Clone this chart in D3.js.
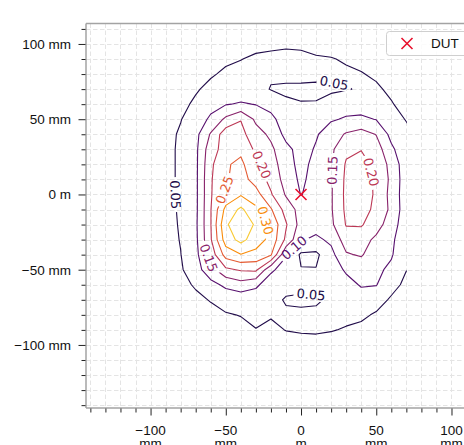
<!DOCTYPE html>
<html><head><meta charset="utf-8">
<script src="https://cdn.jsdelivr.net/npm/d3@7/dist/d3.min.js"></script>
<style>html,body{margin:0;padding:0;background:#fff;} svg{display:block;}</style>
</head><body>
<svg id="chart" width="464" height="445"></svg>
<script>
// ---- data (mm grid, estimated field values) ----
const gridX = [-100,-90,-80,-70,-60,-50,-40,-30,-20,-10,0,10,20,30,40,50,60,70];
const gridY = [110,100,90,80,70,60,50,40,30,20,10,0,-10,-20,-30,-40,-50,-60,-70,-80,-90,-100,-110];
const fieldRows = [
 [0.001,0.002,0.004,0.006,0.008,0.010,0.012,0.014,0.016,0.018,0.018,0.015,0.013,0.011,0.008,0.006,0.004,0.002],
 [0.002,0.006,0.010,0.015,0.022,0.030,0.035,0.040,0.043,0.046,0.045,0.038,0.035,0.030,0.025,0.020,0.012,0.005],
 [0.004,0.010,0.015,0.025,0.035,0.042,0.049,0.056,0.058,0.058,0.057,0.054,0.052,0.046,0.040,0.030,0.020,0.010],
 [0.006,0.014,0.022,0.035,0.045,0.058,0.062,0.060,0.055,0.058,0.062,0.058,0.058,0.056,0.052,0.044,0.030,0.015],
 [0.008,0.018,0.030,0.045,0.062,0.065,0.070,0.065,0.048,0.045,0.042,0.043,0.044,0.047,0.055,0.056,0.042,0.025],
 [0.011,0.024,0.038,0.058,0.085,0.097,0.105,0.098,0.080,0.055,0.052,0.052,0.065,0.080,0.075,0.070,0.053,0.035],
 [0.014,0.030,0.048,0.075,0.108,0.160,0.198,0.140,0.115,0.070,0.070,0.080,0.095,0.105,0.110,0.098,0.065,0.048],
 [0.016,0.035,0.056,0.085,0.155,0.230,0.215,0.170,0.140,0.085,0.075,0.095,0.125,0.155,0.170,0.148,0.085,0.060],
 [0.017,0.036,0.058,0.088,0.180,0.220,0.240,0.190,0.160,0.115,0.080,0.105,0.140,0.190,0.198,0.175,0.110,0.065],
 [0.017,0.036,0.058,0.088,0.190,0.245,0.260,0.215,0.175,0.120,0.085,0.115,0.145,0.205,0.220,0.185,0.135,0.068],
 [0.017,0.036,0.058,0.088,0.195,0.245,0.270,0.230,0.185,0.130,0.090,0.120,0.145,0.210,0.230,0.190,0.140,0.070],
 [0.017,0.035,0.058,0.088,0.195,0.260,0.295,0.270,0.205,0.145,0.098,0.120,0.145,0.212,0.235,0.190,0.135,0.070],
 [0.017,0.035,0.056,0.088,0.198,0.315,0.360,0.310,0.255,0.180,0.130,0.125,0.145,0.210,0.225,0.185,0.140,0.070],
 [0.016,0.035,0.054,0.090,0.198,0.345,0.375,0.345,0.290,0.205,0.130,0.120,0.140,0.203,0.205,0.170,0.125,0.068],
 [0.015,0.033,0.052,0.088,0.195,0.325,0.365,0.325,0.285,0.190,0.105,0.090,0.110,0.175,0.170,0.140,0.110,0.065],
 [0.014,0.030,0.049,0.085,0.170,0.270,0.298,0.285,0.255,0.105,0.042,0.040,0.085,0.145,0.155,0.120,0.105,0.060],
 [0.012,0.026,0.044,0.080,0.130,0.190,0.205,0.210,0.110,0.075,0.052,0.052,0.070,0.108,0.120,0.110,0.090,0.051],
 [0.010,0.022,0.035,0.056,0.085,0.110,0.130,0.110,0.070,0.060,0.058,0.058,0.060,0.080,0.105,0.102,0.065,0.040],
 [0.008,0.016,0.025,0.038,0.053,0.070,0.068,0.070,0.060,0.047,0.045,0.046,0.055,0.068,0.075,0.068,0.044,0.028],
 [0.006,0.011,0.018,0.028,0.035,0.046,0.052,0.058,0.053,0.055,0.055,0.056,0.058,0.059,0.058,0.045,0.030,0.018],
 [0.004,0.007,0.012,0.018,0.022,0.030,0.035,0.049,0.042,0.051,0.054,0.055,0.052,0.047,0.040,0.030,0.018,0.010],
 [0.002,0.004,0.007,0.010,0.012,0.018,0.020,0.030,0.028,0.035,0.036,0.037,0.035,0.030,0.022,0.018,0.010,0.005],
 [0.001,0.002,0.004,0.006,0.008,0.010,0.010,0.015,0.012,0.015,0.015,0.015,0.015,0.012,0.010,0.008,0.005,0.002]
];
const levels = [0.05,0.10,0.15,0.20,0.25,0.30,0.35];
const colorMax = 0.40;
// contour labels: level, x (mm), y (mm), rotation hint (deg)
const labelLevels = [0.05, 0.05, 0.05, 0.10, 0.15, 0.15, 0.20, 0.20, 0.25, 0.30];
const labelX      = [-81.5, 22,   6.7,  -5,   -61,  20.8, 47.5, -26.3, -50.5, -23];
const labelY      = [0,     74,  -66.5, -35,  -42,  16,   15,   19.7,  3,     -17];
const labelHint   = [90,    -5,   8,    -40,  65,   -90,  90,   60,    -72,   65];
const xDomain = [-142.9, 112.7];
const yDomain = [-141.9, 113.6];
const xMajor = [-100,-50,0,50,100];
const yMajor = [100,50,0,-50,-100];
const xTickLines = [["\u2212100","mm"],["\u221250","mm"],["0","m"],["50","mm"],["100","mm"]];
const yTickText = ["100 mm","50 mm","0 m","\u221250 mm","\u2212100 mm"];
const minorTicks = d3.range(-140, 111, 10).filter(v => v % 50 !== 0);
const gridTicks = d3.range(-140, 111, 10);
const dutName = ["DUT"];
const dutX = [0];
const dutY = [0];
const dataXMax = 70;

// ---- layout ----
const svg = d3.select("#chart");
const plot = {left: 86, top: 23.5, bottom: 408, right: 470.6};
const xScale = d3.scaleLinear().domain(xDomain).range([plot.left, plot.right]);
const yScale = d3.scaleLinear().domain(yDomain).range([plot.bottom, plot.top]);
const color = v => d3.interpolateInferno(v / colorMax);
const sansTick = "'Liberation Sans', Arial, Helvetica, sans-serif";
const sansLabel = "'DejaVu Sans', 'Bitstream Vera Sans', sans-serif";

svg.append("rect").attr("width",464).attr("height",445).attr("fill","#fff");
const defs = svg.append("defs");
defs.append("clipPath").attr("id","plotClip").append("rect")
  .attr("x", plot.left).attr("y", plot.top)
  .attr("width", xScale(dataXMax) + 0.6 - plot.left).attr("height", plot.bottom - plot.top);
defs.append("clipPath").attr("id","axClip").append("rect")
  .attr("x", plot.left).attr("y", plot.top)
  .attr("width", plot.right - plot.left).attr("height", plot.bottom - plot.top);

// grid
const grid = svg.append("g").attr("clip-path","url(#axClip)")
  .attr("stroke","#e4e4e4").attr("stroke-width",1).attr("stroke-dasharray","4.5,2.5");
grid.selectAll("line.gv").data(gridTicks).join("line").attr("class","gv")
  .attr("x1", d => Math.round(xScale(d)) + 0.5).attr("x2", d => Math.round(xScale(d)) + 0.5)
  .attr("y1", plot.top).attr("y2", plot.bottom);
grid.selectAll("line.gh").data(gridTicks).join("line").attr("class","gh")
  .attr("y1", d => Math.round(yScale(d)) + 0.5).attr("y2", d => Math.round(yScale(d)) + 0.5)
  .attr("x1", plot.left).attr("x2", plot.right);

// contours
const nx = gridX.length, ny = gridY.length;
const sx = gridX[1] - gridX[0], sy = gridY[1] - gridY[0];
const values = fieldRows.flat();
const contours = d3.contours().size([nx, ny]).thresholds(levels)(values);
const gx2px = gx => xScale(gridX[0] + (gx - 0.5) * sx);
const gy2px = gy => yScale(gridY[0] + (gy - 0.5) * sy);
const proj = d3.geoTransform({point: function(gx, gy){ this.stream.point(gx2px(gx), gy2px(gy)); }});
const path = d3.geoPath(proj);

// rings in px for label placement
const ringsByLevel = new Map();
contours.forEach(c => {
  const rings = [];
  c.coordinates.forEach(poly => poly.forEach(ring => rings.push(ring.map(([a,b]) => [gx2px(a), gy2px(b)]))));
  ringsByLevel.set(c.value, rings);
});

const xmax = xScale(dataXMax);
function placeOnContour(level, tx, ty, hint){
  const rings = ringsByLevel.get(level) || [];
  let best = null;
  rings.forEach(r => {
    for (let i = 0; i < r.length - 1; i++){
      const [x1,y1] = r[i], [x2,y2] = r[i+1];
      if (x1 > xmax && x2 > xmax) continue;
      const dx = x2-x1, dy = y2-y1, L2 = dx*dx+dy*dy;
      let t = L2 > 0 ? ((tx-x1)*dx + (ty-y1)*dy)/L2 : 0;
      t = Math.max(0, Math.min(1, t));
      const px = x1 + t*dx, py = y1 + t*dy, d = (px-tx)**2 + (py-ty)**2;
      if (!best || d < best.d) best = {d, px, py, r, i};
    }
  });
  if (!best) return {x: tx, y: ty, a: hint};
  const r = best.r, n = r.length - 1;
  const a = r[(best.i - 1 + n) % n], b = r[(best.i + 2) % n];
  const ang = Math.atan2(b[1]-a[1], b[0]-a[0]) * 180 / Math.PI;
  const cands = [ang, ang+180, ang-180, ang+360, ang-360];
  let ch = cands[0];
  cands.forEach(c => { if (Math.abs(c - hint) < Math.abs(ch - hint)) ch = c; });
  return {x: best.px, y: best.py, a: ch};
}

const labels = labelLevels.map((lv, i) => Object.assign({level: lv, text: lv.toFixed(2)},
  placeOnContour(lv, xScale(labelX[i]), yScale(labelY[i]), labelHint[i])));

// masks per level
const fontSize = 13;
const measure = svg.append("text").attr("font-family", sansLabel).attr("font-size", fontSize).attr("visibility","hidden");
labels.forEach(l => { measure.text(l.text); l.w = measure.node().getComputedTextLength(); });
measure.remove();

levels.forEach((lv, k) => {
  const m = defs.append("mask").attr("id","mask"+k).attr("maskUnits","userSpaceOnUse")
    .attr("x",0).attr("y",0).attr("width",464).attr("height",445);
  m.append("rect").attr("x",0).attr("y",0).attr("width",464).attr("height",445).attr("fill","#fff");
  labels.filter(l => l.level === lv).forEach(l => {
    m.append("rect").attr("x", -l.w/2 - 3).attr("y", -6.5).attr("width", l.w + 6).attr("height", 13)
      .attr("fill","#000").attr("transform", `translate(${l.x},${l.y}) rotate(${l.a})`);
  });
});

const cg = svg.append("g").attr("clip-path","url(#plotClip)");
contours.forEach(c => {
  const k = levels.indexOf(c.value);
  cg.append("g").attr("mask", `url(#mask${k})`)
    .append("path").attr("d", path(c)).attr("fill","none")
    .attr("stroke", color(c.value)).attr("stroke-width", 1.1).attr("stroke-linejoin","round");
});

// labels
const lg = svg.append("g");
lg.selectAll("text").data(labels).join("text")
  .attr("transform", d => `translate(${d.x},${d.y}) rotate(${d.a})`)
  .attr("text-anchor","middle").attr("dy","0.36em")
  .attr("font-family", sansLabel).attr("font-size", fontSize)
  .attr("fill", d => color(d.level)).text(d => d.text);

// DUT marker
const xMark = (s) => `M${-s},${-s}L${s},${s}M${-s},${s}L${s},${-s}`;
svg.append("g").selectAll("path").data(dutName.map((n,i)=>({n, x: dutX[i], y: dutY[i]}))).join("path")
  .attr("transform", d => `translate(${xScale(d.x)},${yScale(d.y)})`)
  .attr("d", xMark(5.5)).attr("stroke","#e8112d").attr("stroke-width",1.6).attr("fill","none");

// spines
const spine = svg.append("g").attr("stroke","#a3a3a3").attr("stroke-width",1.5);
spine.append("line").attr("x1",plot.left).attr("x2",plot.left).attr("y1",plot.top).attr("y2",plot.bottom);
spine.append("line").attr("x1",plot.left).attr("x2",plot.right).attr("y1",plot.top).attr("y2",plot.top);
spine.append("line").attr("x1",plot.left).attr("x2",plot.right).attr("y1",plot.bottom).attr("y2",plot.bottom);

// ticks
function tickAxis(axis){ return g => { g.call(axis); g.select(".domain").remove(); g.selectAll("line").attr("stroke","#222"); }; }
svg.append("g").attr("transform",`translate(${plot.left - 0.5},0)`)
  .call(tickAxis(d3.axisLeft(yScale).tickValues(yMajor).tickSize(7).tickFormat("")));
svg.append("g").attr("transform",`translate(${plot.left - 0.5},0)`)
  .call(tickAxis(d3.axisLeft(yScale).tickValues(minorTicks).tickSize(4).tickFormat("")));
svg.append("g").attr("transform",`translate(0,${plot.bottom + 0.5})`)
  .call(tickAxis(d3.axisBottom(xScale).tickValues(xMajor).tickSize(7).tickFormat("")));
svg.append("g").attr("transform",`translate(0,${plot.bottom + 0.5})`)
  .call(tickAxis(d3.axisBottom(xScale).tickValues(minorTicks).tickSize(4).tickFormat("")));

// tick labels
svg.append("g").selectAll("text").data(yMajor).join("text")
  .attr("x", 71).attr("y", d => yScale(d) + 5).attr("text-anchor","end")
  .attr("font-family", sansTick).attr("font-size", 13.5).attr("fill","#111")
  .text((d,i) => yTickText[i]);
const xl = svg.append("g").selectAll("text").data(xMajor).join("text")
  .attr("text-anchor","middle").attr("font-family", sansTick).attr("font-size", 13.5).attr("fill","#111");
xl.each(function(d,i){
  const t = d3.select(this);
  xTickLines[i].forEach((s,j) => t.append("tspan").attr("x", xScale(d)).attr("y", 434.5 + j*13.5).text(s));
});

// legend
const leg = svg.append("g");
leg.append("rect").attr("x",386.5).attr("y",31.5).attr("width",90).attr("height",24).attr("rx",3)
  .attr("fill","#fff").attr("fill-opacity",0.85).attr("stroke","#cfcfcf").attr("stroke-width",1);
leg.append("path").attr("transform","translate(407,43.5)").attr("d", xMark(5.5))
  .attr("stroke","#e8112d").attr("stroke-width",1.6).attr("fill","none");
leg.append("text").attr("x",431).attr("y",48).attr("font-family",sansTick).attr("font-size",13.5)
  .attr("fill","#111").text(dutName[0]);
</script>
</body></html>
